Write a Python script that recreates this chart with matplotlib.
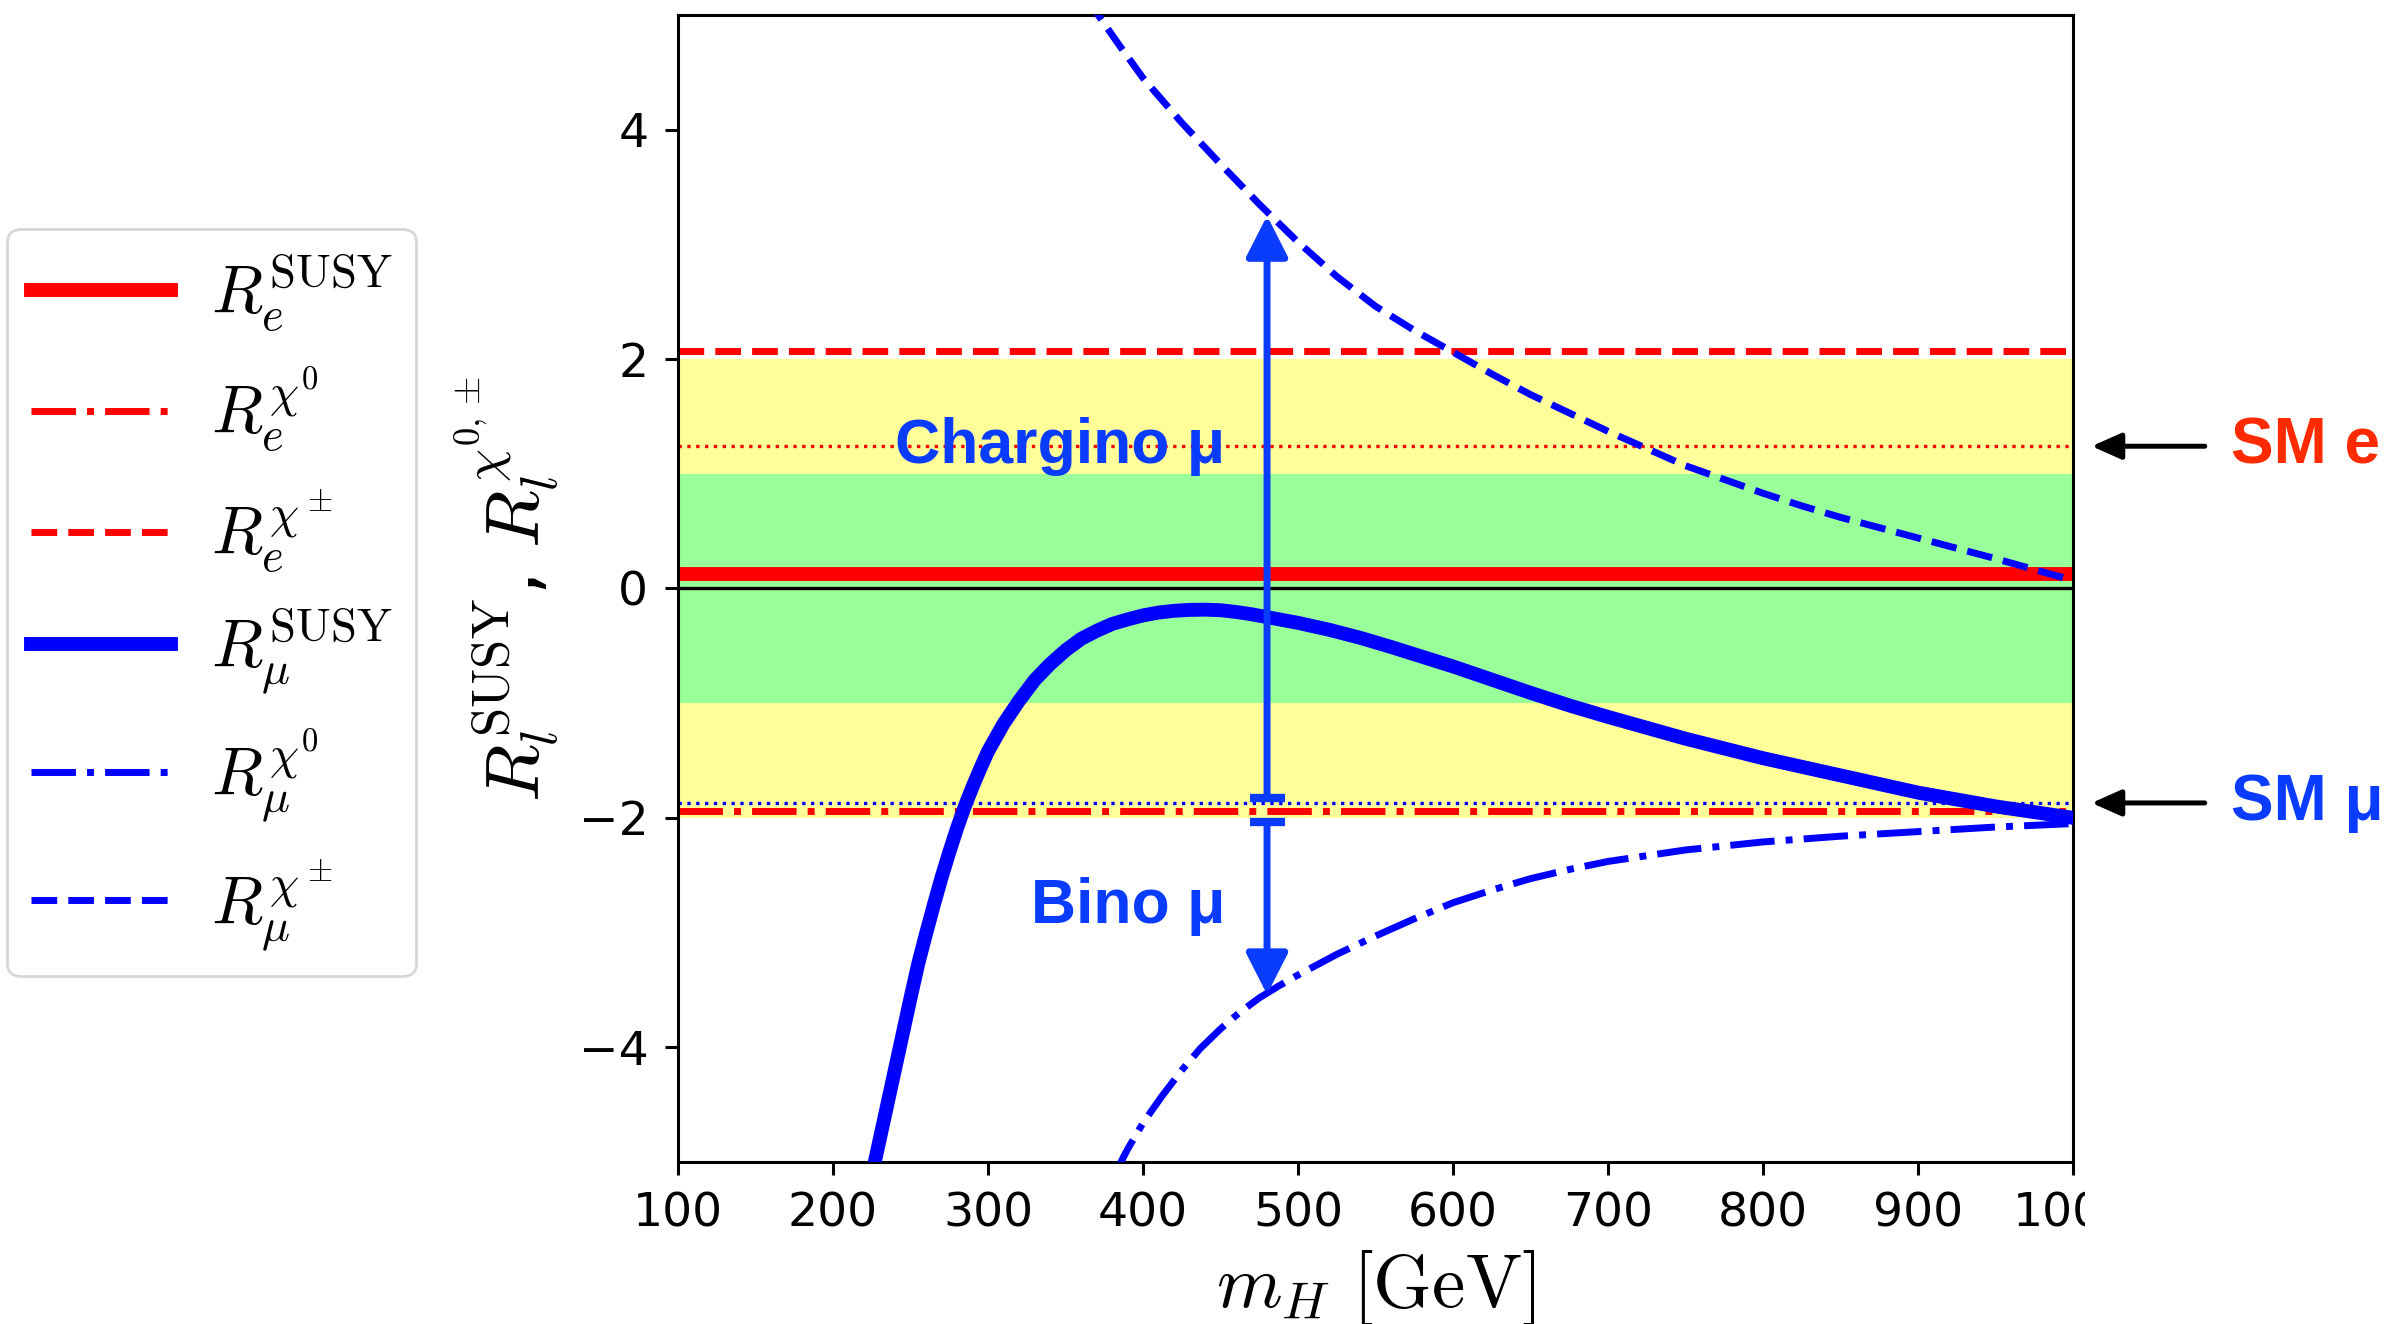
import matplotlib
matplotlib.use("Agg")
import matplotlib.pyplot as plt
from matplotlib.transforms import Bbox, TransformedBbox

plt.rcParams['mathtext.fontset'] = 'cm'
plt.rcParams['font.family'] = 'DejaVu Sans'

# ---------------------------------------------------------------- data ---- #
# muon: total SUSY ratio and its neutralino / chargino pieces vs m_H [GeV]
mass_mu_susy = [225, 230, 235, 240, 245, 250, 255, 260, 265, 270, 275, 280, 285, 290, 295,
                300, 310, 320, 330, 340, 350, 360, 370, 380, 390, 400, 410, 420, 430, 440,
                450, 460, 470, 480, 490, 500, 520, 540, 560, 580, 600, 625, 650, 675, 700,
                750, 800, 850, 900, 950, 1000]
r_mu_susy = [-5.12, -4.81, -4.50, -4.19, -3.88, -3.57, -3.27, -3.01, -2.76, -2.52, -2.30,
             -2.09, -1.90, -1.73, -1.57, -1.42, -1.18, -0.98, -0.80, -0.66, -0.54, -0.44,
             -0.37, -0.31, -0.27, -0.235, -0.21, -0.195, -0.187, -0.185, -0.19, -0.205,
             -0.225, -0.25, -0.275, -0.30, -0.36, -0.43, -0.51, -0.595, -0.68, -0.795,
             -0.91, -1.02, -1.12, -1.31, -1.48, -1.63, -1.78, -1.90, -2.00]

mass_mu_chi0 = [380, 390, 400, 412, 425, 437, 450, 462, 475, 487, 500, 525, 550, 575, 600,
                625, 650, 675, 700, 750, 800, 850, 900, 950, 1000]
r_mu_chi0 = [-5.15, -4.89, -4.66, -4.43, -4.20, -4.01, -3.84, -3.70, -3.57, -3.47, -3.37,
             -3.19, -3.03, -2.88, -2.74, -2.63, -2.53, -2.45, -2.38, -2.28, -2.21, -2.16,
             -2.12, -2.08, -2.05]

mass_mu_chipm = [360, 371, 385, 400, 425, 450, 475, 500, 525, 550, 575, 600, 625, 650, 675,
                 700, 725, 750, 775, 800, 825, 850, 875, 900, 925, 950, 975, 1000]
r_mu_chipm = [5.20, 5.00, 4.73, 4.45, 4.06, 3.70, 3.35, 3.02, 2.72, 2.46, 2.25, 2.06, 1.87,
              1.69, 1.53, 1.37, 1.22, 1.07, 0.95, 0.83, 0.72, 0.62, 0.53, 0.44, 0.35, 0.26,
              0.165, 0.07]

# electron: flat in m_H
r_e_susy = 0.13
r_e_chi0 = -1.94
r_e_chipm = 2.07

# SM reference values and allowed bands
sm_e = 1.24
sm_mu = -1.87
band_1sigma = (-1.0, 1.0)
band_2sigma = (-2.0, 2.0)

# arrows marking chargino / bino contributions at one mass
m_arrow = 480
chargino_arrow = (-1.83, 3.25)
bino_arrow = (-2.04, -3.54)

# ---------------------------------------------------------------- plot ---- #
ARROW_BLUE = '#0a3cff'
SM_RED = '#ff2a00'

fig = plt.figure(figsize=(12.005, 6.62), dpi=200)
ax = fig.add_axes([0.2824, 0.1224, 0.581, 0.8663])

ax.axhspan(*band_2sigma, color='#ffff99', lw=0, zorder=0)
ax.axhspan(*band_1sigma, color='#99ff99', lw=0, zorder=0.5)

ax.axhline(sm_e, color='red', ls=':', lw=1.2, zorder=1)
ax.axhline(sm_mu, color='blue', ls=':', lw=1.2, zorder=1)
ax.axhline(0, color='black', lw=1.2, zorder=1)

l1 = ax.axhline(r_e_susy, color='red', lw=5, label=r'$R_e^{\mathrm{SUSY}}$', zorder=2)
l2 = ax.axhline(r_e_chi0, color='red', ls='-.', lw=2.5, label=r'$R_e^{\chi^0}$', zorder=2)
l3 = ax.axhline(r_e_chipm, color='red', ls='--', lw=2.5, label=r'$R_e^{\chi^\pm}$', zorder=2)
l4, = ax.plot(mass_mu_susy, r_mu_susy, color='blue', lw=5, label=r'$R_\mu^{\mathrm{SUSY}}$', zorder=3)
l5, = ax.plot(mass_mu_chi0, r_mu_chi0, color='blue', ls='-.', lw=2.5, label=r'$R_\mu^{\chi^0}$', zorder=3)
l6, = ax.plot(mass_mu_chipm, r_mu_chipm, color='blue', ls='--', lw=2.5, label=r'$R_\mu^{\chi^\pm}$', zorder=3)

# contribution arrows with a flat cap at the tail
for y0, y1 in (chargino_arrow, bino_arrow):
    ax.annotate('', xy=(m_arrow, y1), xytext=(m_arrow, y0),
                arrowprops=dict(arrowstyle='-|>,head_length=0.63,head_width=0.32',
                                mutation_scale=20, color=ARROW_BLUE, lw=2.5,
                                shrinkA=0, shrinkB=0), zorder=4)
    ax.plot(m_arrow, y0, marker='_', ms=12.6, mew=3, color=ARROW_BLUE, zorder=4)

ax.text(453, sm_e, 'Chargino μ', color=ARROW_BLUE, fontsize=22.5, fontweight='bold',
        family='Liberation Sans', ha='right', va='center', zorder=5)
ax.text(453, -2.77, 'Bino μ', color=ARROW_BLUE, fontsize=22.5, fontweight='bold',
        family='Liberation Sans', ha='right', va='center', zorder=5)

# SM markers to the right of the frame
for y, name, col in ((sm_e, 'SM e', SM_RED), (sm_mu, 'SM μ', ARROW_BLUE)):
    ax.annotate('', xy=(1012, y), xytext=(1085, y), xycoords='data',
                arrowprops=dict(arrowstyle='-|>,head_length=0.45,head_width=0.2',
                                mutation_scale=20, color='black', lw=1.8,
                                shrinkA=0, shrinkB=0), annotation_clip=False)
    ax.text(1102, y, name, color=col, fontsize=23, fontweight='bold',
            family='Liberation Sans', ha='left', va='center', clip_on=False)

ax.set_xlim(100, 1000)
ax.set_ylim(-5, 5)
ax.set_xticks(range(100, 1001, 100))
ax.set_yticks([-4, -2, 0, 2, 4])
ax.tick_params(labelsize=17, length=4.7, width=1.1, pad=6)
for sp in ax.spines.values():
    sp.set_linewidth(1.1)

ax.set_xlabel(r'$m_H\ [\mathrm{GeV}]$', fontsize=27)
ax.set_ylabel(r'$R_l^{\mathrm{SUSY}}$, $R_l^{\chi^{0,\pm}}$', fontsize=27)
ax.xaxis.set_label_coords(0.5, -0.075)
ax.yaxis.set_label_coords(-0.083, 0.5)

# last x tick label is cut at the right edge
clip = TransformedBbox(Bbox([[0, 0], [2085 / 2401, 1]]), fig.transFigure)
for lbl in ax.get_xticklabels():
    lbl.set_clip_box(clip)
    lbl.set_clip_on(True)

fig.legend(handles=[l1, l2, l3, l4, l5, l6], loc='center left',
           bbox_to_anchor=(0.003, 0.545), bbox_transform=fig.transFigure,
           borderaxespad=0, fontsize=24, handlelength=2.1, handletextpad=0.6,
           labelspacing=0.48, borderpad=0.35)

fig.savefig('out.png', dpi=200)
